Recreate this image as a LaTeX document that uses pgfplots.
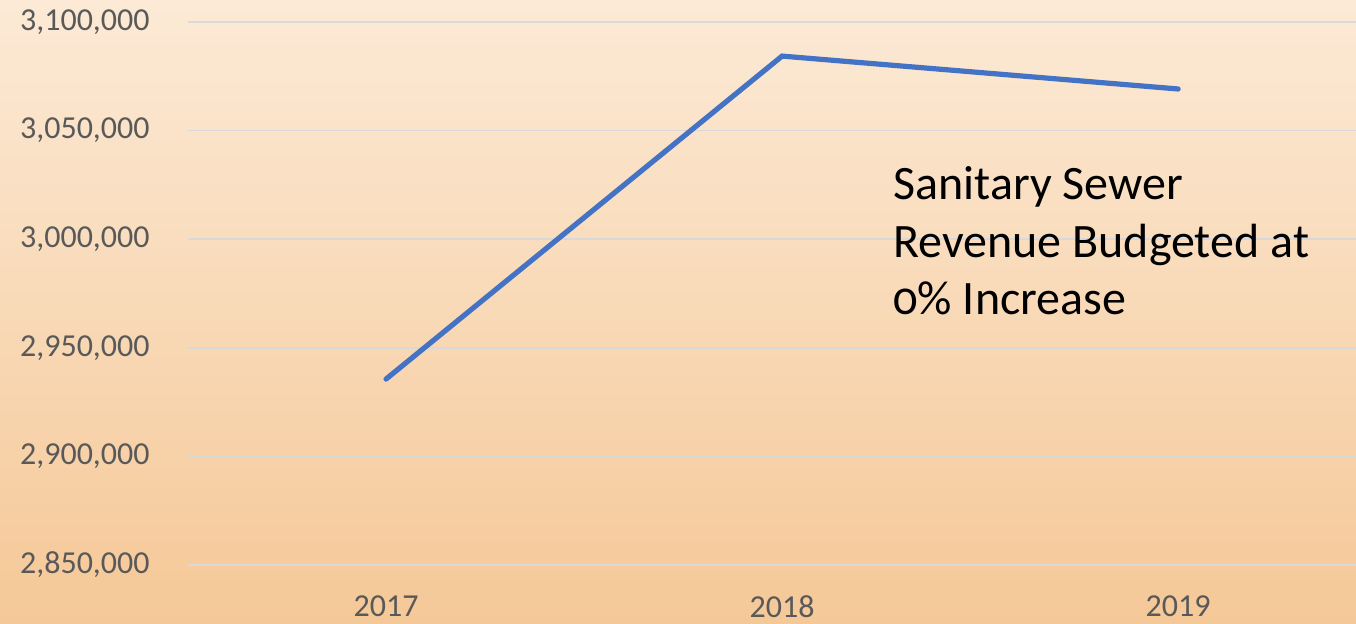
\documentclass[border=0pt]{standalone}
\usepackage{fontspec}
\setmainfont{Carlito}
\usepackage{pgfplots}
\pgfplotsset{compat=1.18}
\definecolor{bgtop}{HTML}{FCEAD6}
\definecolor{bgbot}{HTML}{F5C897}
\definecolor{serieblue}{HTML}{4472C4}
\definecolor{gridgray}{HTML}{D9D9D9}
\definecolor{txt}{HTML}{595959}
\begin{document}
\begin{tikzpicture}
\shade[top color=bgtop, bottom color=bgbot] (0,0) rectangle (678pt,312pt);
\useasboundingbox (0,0) rectangle (678pt,312pt);
\begin{axis}[
  at={(94pt,29.5pt)}, anchor=south west,
  scale only axis, width=584pt, height=271.5pt,
  xmin=-0.5, xmax=2.449,
  ymin=2850000, ymax=3100000,
  xtick={0,1,2}, xticklabels={2017,2018,2019},
  ytick={2850000,2900000,2950000,3000000,3050000,3100000},
  scaled y ticks=false,
  /pgf/number format/.cd, fixed, 1000 sep={,}, assume math mode=true,
  /pgfplots/.cd,
  axis line style={draw=none},
  tick style={draw=none},
  ymajorgrids,
  major grid style={gridgray, line width=0.75pt},
  ticklabel style={font=\fontsize{16}{19}\selectfont, text=txt},
  yticklabel style={inner sep=0pt, anchor=east, xshift=-19pt},
  xticklabel style={inner sep=0pt, anchor=north, yshift=-15pt},
  clip=false,
]
\addplot[serieblue, line width=2.6pt, line cap=round, line join=miter] coordinates {
  (0,2935600) (1,3084300) (2,3069150)
};
\end{axis}
\node[anchor=base west, inner sep=0pt, font=\fontsize{24}{29}\selectfont] at (446.5pt,212pt) {Sanitary Sewer};
\node[anchor=base west, inner sep=0pt, font=\fontsize{24}{29}\selectfont] at (446.5pt,183pt) {Revenue Budgeted at};
\node[anchor=base west, inner sep=0pt, font=\fontsize{24}{29}\selectfont] at (446.5pt,154.5pt) {{\addfontfeatures{Numbers=OldStyle}0}\% Increase};
\end{tikzpicture}
\end{document}
